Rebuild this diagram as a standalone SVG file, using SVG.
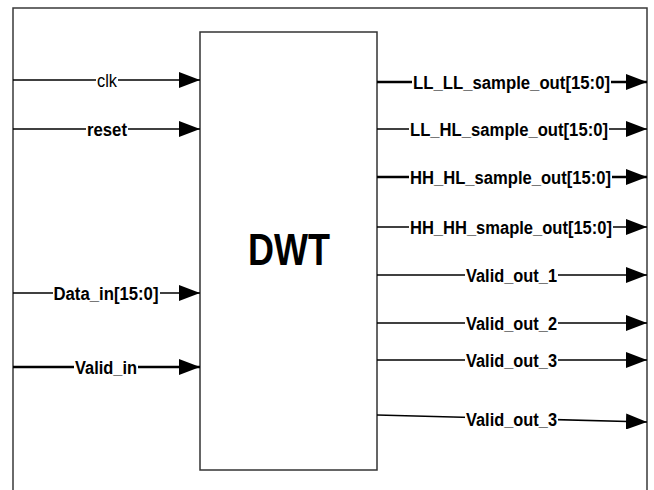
<svg xmlns="http://www.w3.org/2000/svg" width="654" height="490" viewBox="0 0 654 490">
  <defs>
    <marker id="arrow" markerUnits="userSpaceOnUse" markerWidth="22" markerHeight="16" refX="21" refY="8" orient="auto">
      <path d="M0,0 L21,8 L0,16 z" fill="#000"/>
    </marker>
    <style>
      .frame { fill: none; stroke: #3a3a3a; stroke-width: 1.5; }
      .box { fill: #fff; stroke: #333; stroke-width: 1.5; }
      .wire { fill: none; stroke: #000; stroke-width: 1.6; marker-end: url(#arrow); }
      .thick { stroke-width: 2.4; }
      .bg { fill: #fff; }
      .lbl { font-family: "Liberation Sans", Arial, sans-serif; font-size: 18px; font-weight: bold; fill: #000; text-anchor: middle; }
      .reg { font-weight: normal; }
      .title { font-family: "Liberation Sans", Arial, sans-serif; font-size: 44px; font-weight: bold; fill: #000; text-anchor: middle; }
    </style>
  </defs>

  <!-- enclosing frame (open at the bottom) -->
  <path class="frame" d="M13,490 V8 H647 V490"/>

  <!-- DWT block -->
  <g id="dwt">
    <rect class="box" x="200" y="32" width="177" height="438"/>
    <text class="title" x="289" y="265" textLength="82" lengthAdjust="spacingAndGlyphs">DWT</text>
  </g>

  <!-- signal connectors -->
  <g id="connectors">
    <!-- inputs -->
    <g id="clk">
      <line class="wire" x1="13" y1="80" x2="200" y2="80"/>
      <rect class="bg" x="96" y="71" width="22" height="18"/>
      <text class="lbl reg" x="107" y="86.5" textLength="20" lengthAdjust="spacingAndGlyphs">clk</text>
    </g>
    <g id="reset">
      <line class="wire" x1="13" y1="129" x2="200" y2="129"/>
      <rect class="bg" x="86" y="120" width="42" height="18"/>
      <text class="lbl" x="107" y="135.5" textLength="40" lengthAdjust="spacingAndGlyphs">reset</text>
    </g>
    <g id="data_in">
      <line class="wire" x1="13" y1="293" x2="200" y2="293"/>
      <rect class="bg" x="53" y="284" width="107" height="18"/>
      <text class="lbl" x="106" y="299.5" textLength="105" lengthAdjust="spacingAndGlyphs">Data_in[15:0]</text>
    </g>
    <g id="valid_in">
      <line class="wire thick" x1="13" y1="367" x2="200" y2="367"/>
      <rect class="bg" x="74" y="358" width="64" height="18"/>
      <text class="lbl" x="106" y="373.5" textLength="62" lengthAdjust="spacingAndGlyphs">Valid_in</text>
    </g>

    <!-- outputs -->
    <g id="ll_ll">
      <line class="wire thick" x1="377" y1="82" x2="647" y2="82"/>
      <rect class="bg" x="412" y="73" width="199" height="18"/>
      <text class="lbl" x="511.5" y="88.5" textLength="197" lengthAdjust="spacingAndGlyphs">LL_LL_sample_out[15:0]</text>
    </g>
    <g id="ll_hl">
      <line class="wire" x1="377" y1="129" x2="647" y2="129"/>
      <rect class="bg" x="409" y="120" width="200" height="18"/>
      <text class="lbl" x="509" y="135.5" textLength="198" lengthAdjust="spacingAndGlyphs">LL_HL_sample_out[15:0]</text>
    </g>
    <g id="hh_hl">
      <line class="wire thick" x1="377" y1="177" x2="647" y2="177"/>
      <rect class="bg" x="409" y="168" width="203" height="18"/>
      <text class="lbl" x="510.5" y="183.5" textLength="201" lengthAdjust="spacingAndGlyphs">HH_HL_sample_out[15:0]</text>
    </g>
    <g id="hh_hh">
      <line class="wire" x1="377" y1="227" x2="647" y2="227"/>
      <rect class="bg" x="409" y="218" width="204" height="18"/>
      <text class="lbl" x="511" y="233.5" textLength="202" lengthAdjust="spacingAndGlyphs">HH_HH_smaple_out[15:0]</text>
    </g>
    <g id="valid_out_1">
      <line class="wire" x1="377" y1="275" x2="647" y2="275"/>
      <rect class="bg" x="465" y="266" width="93" height="18"/>
      <text class="lbl" x="511.5" y="281.5" textLength="91" lengthAdjust="spacingAndGlyphs">Valid_out_1</text>
    </g>
    <g id="valid_out_2">
      <line class="wire" x1="377" y1="323" x2="647" y2="323"/>
      <rect class="bg" x="465" y="314" width="93" height="18"/>
      <text class="lbl" x="511.5" y="329.5" textLength="91" lengthAdjust="spacingAndGlyphs">Valid_out_2</text>
    </g>
    <g id="valid_out_3">
      <line class="wire" x1="377" y1="360" x2="647" y2="360"/>
      <rect class="bg" x="465" y="351" width="93" height="18"/>
      <text class="lbl" x="511.5" y="366.5" textLength="91" lengthAdjust="spacingAndGlyphs">Valid_out_3</text>
    </g>
    <g id="valid_out_3b">
      <line class="wire" x1="377" y1="415" x2="647" y2="422"/>
      <rect class="bg" x="465" y="410" width="93" height="18"/>
      <text class="lbl" x="511.5" y="425.5" textLength="91" lengthAdjust="spacingAndGlyphs">Valid_out_3</text>
    </g>
  </g>
</svg>
